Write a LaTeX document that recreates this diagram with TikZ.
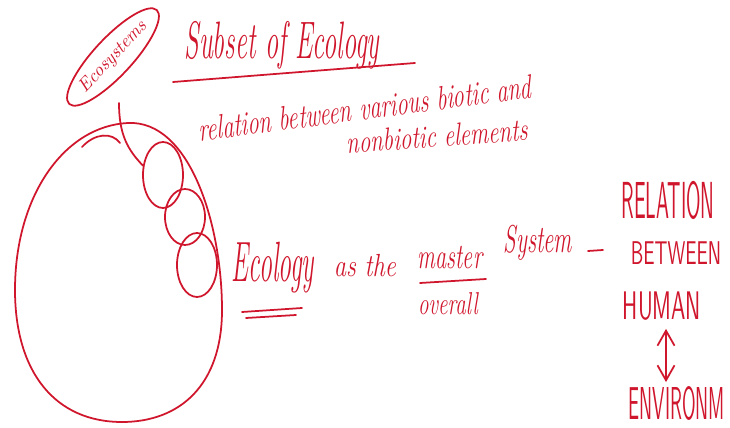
\documentclass[tikz,border=0pt]{standalone}
\usepackage{tikz}
\usetikzlibrary{arrows.meta,positioning,calc,shapes.geometric}
\definecolor{inkred}{RGB}{208,22,44}
\newcommand{\penfont}[1]{\fontsize{#1}{#1}\selectfont\itshape}
\newcommand{\blockfont}[1]{\fontsize{#1}{#1}\selectfont\sffamily}

\begin{document}
\begin{tikzpicture}[
  x=0.02cm, y=-0.02cm,
  ink/.style={draw=inkred, line width=1pt, line cap=round},
  hand/.style={text=inkred, inner sep=0pt, transform shape},
  bubble/.style={ink, ellipse, inner sep=0pt},
  dbl/.style={ink, {Straight Barb[length=3mm,width=3.4mm]}-{Straight Barb[length=3mm,width=3.4mm]}}
]
\fill[white] (0,0) rectangle (730,428);
\useasboundingbox (0,0) rectangle (730,428);

% ecosystem bubble and heading
\node[hand, bubble, font=\penfont{10.5}, rotate=47, inner ysep=3pt] (ecosys) at (113,57) {Ecosystems};
\node[hand, font=\penfont{15}, yscale=2] (subset) at (282,45) {Subset of Ecology};
\draw[ink] (173,82) -- (415,63);
\node[hand, font=\penfont{12.8}, yscale=1.5, rotate=5] (relation) at (365,108) {relation between various biotic and};
\node[hand, font=\penfont{13}, yscale=1.4, rotate=3] (nonbiotic) at (437,136) {nonbiotic elements};

% the egg and the small systems
\draw[ink] (128,123) .. controls (190,120) and (222,225) .. (222,310)
  .. controls (222,385) and (180,422) .. (122,422)
  .. controls (55,422) and (15,372) .. (15,290)
  .. controls (15,195) and (65,126) .. (128,123);
\draw[ink] (82,147) .. controls (95,133) and (112,132) .. (120,143);
\node[bubble, minimum width=0.8cm, minimum height=1.32cm] (c1) at (163,175) {};
\node[bubble, minimum width=0.8cm, minimum height=1.12cm] (c2) at (185,217) {};
\node[bubble, minimum width=0.8cm, minimum height=1.28cm] (c3) at (197,265) {};
\coordinate (tail) at (119,103);
\draw[ink] (tail) .. controls (119,135) and (128,150) .. (c1.155);

% ecology line
\node[hand, font=\penfont{14.7}, yscale=2.2] (ecology) at (273,268) {Ecology};
\draw[ink] (242,312) -- (302,308);
\draw[ink] (246,318) -- (296,315);
\node[hand, font=\penfont{14}, yscale=1.3] (asthe) at (365,266) {as the};
\node[hand, font=\penfont{12.7}, yscale=1.6] (master) at (450,258) {master};
\draw[ink] (420,283) -- (486,279);
\node[hand, font=\penfont{12}, yscale=1.5] (overall) at (448,304) {overall};
\node[hand, font=\penfont{13}, yscale=1.7] (system) at (538,243) {System};
\draw[ink] (588,251) -- (603,250);

% human and environment
\node[hand, font=\blockfont{11.4}, yscale=2.6] (relcap) at (668,200) {RELATION};
\node[hand, font=\blockfont{11}, yscale=1.7] (between) at (676,253) {BETWEEN};
\node[hand, font=\blockfont{12.6}, yscale=1.8] (human) at (662,306) {HUMAN};
\node[hand, font=\blockfont{10.5}, yscale=2.5] (envir) at (677,403) {ENVIRONM};
\draw[dbl] ($(human.south)+(4,8)$) -- ($(envir.north)+(-11,-3)$);
\end{tikzpicture}
\end{document}
